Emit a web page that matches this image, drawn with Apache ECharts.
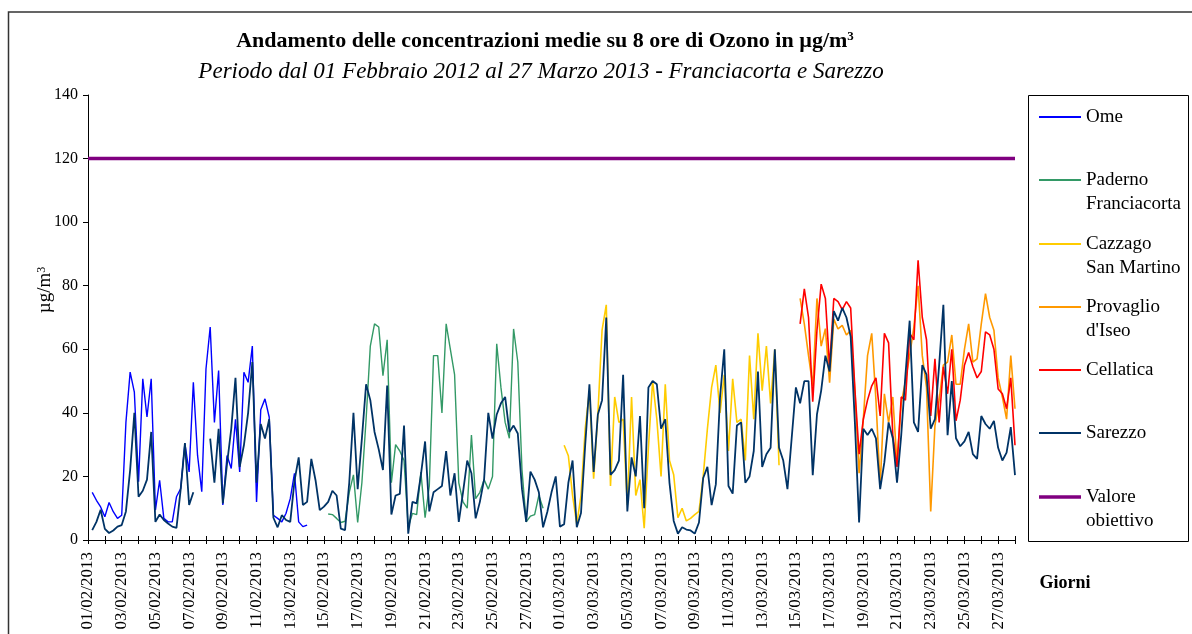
<!DOCTYPE html>
<html lang="it">
<head>
<meta charset="utf-8">
<title>Ozono - medie su 8 ore</title>
<script src="https://cdn.jsdelivr.net/npm/echarts@6/dist/echarts.min.js"></script>
<style>
  html, body { margin: 0; padding: 0; background: #ffffff; }
  #chart { width: 1192px; height: 634px; }
</style>
</head>
<body>
<div id="chart"></div>
<script>
// Medie mobili su 8 ore di ozono (µg/m³), una lettura ogni 6 ore a partire dal 01/02/2013 00:00.
const stepHours = 6;
const totalDays = 55;
const targetValue = 120;

// Etichette dell'asse dei giorni (una ogni due giorni)
const tickLabels = [
  '01/02/2013', '03/02/2013', '05/02/2013', '07/02/2013', '09/02/2013', '11/02/2013', '13/02/2013',
  '15/02/2013', '17/02/2013', '19/02/2013', '21/02/2013', '23/02/2013', '25/02/2013', '27/02/2013',
  '01/03/2013', '03/03/2013', '05/03/2013', '07/03/2013', '09/03/2013', '11/03/2013', '13/03/2013',
  '15/03/2013', '17/03/2013', '19/03/2013', '21/03/2013', '23/03/2013', '25/03/2013', '27/03/2013'
];

// Ome: dal passo 1
const omeStart = 1;
const ome = [
  15, 12.5, 10.4, 7.3, 11.8, 8.9, 6.8, 7.8, 37, 52.8, 46.5, 18.3, 50.7, 38.7, 50.7, 9.4,
  18.8, 6.8, 5.7, 5.7, 13.6, 16.2, 30.3, 21.4, 49.6, 26.6, 15.2, 53.8, 67, 37, 53.3, 11,
  26.6, 22.5, 38, 21.4, 52.8, 49.6, 61, 12, 41, 44.4, 38.7, 7.8, 6.8, 5.7, 8.4, 13,
  21, 5.7, 4.2, 4.7
];

// Paderno Franciacorta: dal passo 57
const padernoStart = 57;
const paderno = [
  8.2, 8, 6.8, 5.5, 5.9, 15, 20.5, 5.5, 18, 38, 61, 68, 67, 51.7, 63, 18,
  30, 28, 25, 4, 8.4, 8, 21.4, 7, 17, 58, 58, 40, 68, 60, 52, 18,
  12, 10, 33, 13, 15, 19, 16, 20, 61.7, 48, 37, 32, 66.4, 56, 22, 5.7,
  7.5, 8, 14, 10
];

// Cazzago San Martino: dal passo 113
const cazzagoStart = 113;
const cazzago = [
  29.8, 26.5, 14, 5, 14, 35, 47, 19.3, 39.5, 66, 74, 17, 45, 37, 38, 11,
  45, 14, 19, 3.7, 29, 50, 38, 20, 49, 25, 20.5, 7, 10, 6, 6.8, 8,
  9, 20, 35, 48, 55, 40, 52, 28, 50.7, 37, 38, 25, 58, 38, 65, 47,
  61, 43, 60, 23.5
];

// Provaglio d'Iseo: dal passo 169
const provaglioStart = 169;
const provaglio = [
  76, 68, 58, 48.5, 76, 61, 66.5, 49.5, 69.5, 66.4, 67.5, 64.5, 66, 47, 21, 38,
  58, 65, 44, 17, 46, 37, 45, 24, 43, 50, 58, 67, 80, 58, 48, 9,
  36, 44, 55, 56, 64.5, 49, 49, 60, 68, 56, 57, 68, 77.5, 70, 66, 51,
  45, 38, 58, 41.3
];

// Cellatica: dal passo 169
const cellaticaStart = 169;
const cellatica = [
  68, 79, 70, 43.5, 66, 80.5, 76, 54.3, 76, 75, 72.5, 75, 73, 47.5, 27, 38,
  44, 48.5, 51, 39, 65, 62, 33, 23, 45, 44, 65, 63, 88, 70, 63, 39,
  57, 37, 54.5, 46, 60, 37.5, 44, 55, 59, 54.5, 51, 53, 65.5, 64.5, 60, 47.5,
  46, 41.3, 51, 29.8
];

// Sarezzo: dal passo 1 (null = dato mancante)
const sarezzoStart = 1;
const sarezzo = [
  3.1, 5.7, 9.5, 3.5, 2.2, 3, 4.2, 4.7, 9, 22, 40, 13.6, 15.5, 19, 34, 5.7,
  8, 6.3, 5.2, 4.2, 3.8, 16, 30.5, 11, 15, null, null, null, 31.9, 18, 35, 11.5,
  24, 35, 51, 23, 29.8, 40, 56, 18, 36.5, 31.9, 38, 7, 4, 7.8, 6.3, 5.7,
  18.5, 26, 11, 12, 25.5, 18.8, 9.4, 10.5, 12, 15.5, 14, 3.6, 3.1, 18, 40, 16,
  31.9, 49, 44, 34, 28.5, 22, 48.6, 8, 14, 14.5, 36, 2, 12, 11.5, 20.4, 31,
  9, 15, 16, 17, 28, 14, 21, 5.7, 15, 25, 21, 6.8, 12, 19, 40, 31.9,
  39.5, 43, 45, 34, 36, 33.5, 16, 5.7, 21.5, 19, 15, 4, 8.8, 15, 20, 4.2,
  5, 18, 25, 4, 8.5, 30, 49, 21.4, 39.5, 44, 70, 20.5, 22, 25, 52, 9,
  26, 20, 39, 10, 48, 50, 49, 35, 38, 18, 6, 2, 4, 3.3, 3, 2,
  5.5, 19.5, 23, 11, 17.5, 45, 60, 17, 14.6, 36, 37, 18, 20, 28, 53, 23,
  27, 29, 60, 29, 25, 16, 32, 48, 43, 50, 50, 20.4, 39.5, 47, 58, 53,
  72, 69, 73, 70, 64, 37, 5.5, 35, 33, 35, 32, 16, 24.5, 37, 32, 18,
  33, 52, 69, 37, 34, 55, 52, 35, 38, 55, 74, 33, 50, 32, 29.5, 31,
  34, 27, 25.5, 39, 36.5, 35, 37.5, 29, 25, 27.5, 35.5, 20.4
];

const serif = 'Liberation Serif, Times New Roman, serif';
const axisEndHours = totalDays * 24;

function toPoints(start, values) {
  return values.map((v, i) => [(start + i) * stepHours, v]);
}

function lineSeries(name, color, width, start, values) {
  return {
    name: name,
    type: 'line',
    symbol: 'none',
    showSymbol: false,
    connectNulls: false,
    color: color,
    lineStyle: { color: color, width: width },
    data: toPoints(start, values),
    animation: false
  };
}

const series = [
  lineSeries('Ome', '#0000ff', 1.4, omeStart, ome),
  lineSeries('Paderno Franciacorta', '#339966', 1.4, padernoStart, paderno),
  lineSeries('Cazzago San Martino', '#ffcc00', 1.6, cazzagoStart, cazzago),
  lineSeries('Provaglio d\'Iseo', '#ff9900', 1.6, provaglioStart, provaglio),
  lineSeries('Cellatica', '#ff0000', 1.6, cellaticaStart, cellatica),
  lineSeries('Sarezzo', '#003366', 1.8, sarezzoStart, sarezzo),
  {
    name: 'Valore obiettivo',
    type: 'line',
    symbol: 'none',
    color: '#800080',
    lineStyle: { color: '#800080', width: 3.5 },
    data: [[0, targetValue], [axisEndHours, targetValue]],
    animation: false
  }
];

// Voci della legenda: riga del simbolo e testo (eventualmente su due righe)
const legendLineHeight = 24;
const legendEntries = [
  { name: 'Ome', text: 'Ome', y: 117, h: 2 },
  { name: 'Paderno Franciacorta', text: '\nPaderno\nFranciacorta', y: 180, h: 2 },
  { name: 'Cazzago San Martino', text: '\nCazzago\nSan Martino', y: 244, h: 2 },
  { name: 'Provaglio d\'Iseo', text: '\nProvaglio\nd\'Iseo', y: 307, h: 2 },
  { name: 'Cellatica', text: 'Cellatica', y: 370, h: 2 },
  { name: 'Sarezzo', text: 'Sarezzo', y: 433, h: 2 },
  { name: 'Valore obiettivo', text: '\nValore\nobiettivo', y: 497, h: 3.5 }
];

const legends = legendEntries.map(e => {
  const lines = e.text.split('\n').length;
  return {
    data: [{ name: e.name, icon: 'rect' }],
    orient: 'vertical',
    left: 1039,
    top: e.y - lines * legendLineHeight / 2,
    padding: 0,
    itemGap: 0,
    itemWidth: 42,
    itemHeight: e.h,
    selectedMode: false,
    formatter: () => e.text,
    textStyle: { fontFamily: serif, fontSize: 19, color: '#000', lineHeight: legendLineHeight }
  };
});

const chart = echarts.init(document.getElementById('chart'), null, { renderer: 'canvas' });

chart.setOption({
  backgroundColor: '#ffffff',
  animation: false,
  grid: { left: 88, right: 177, top: 95, bottom: 94, containLabel: false },
  legend: legends,
  xAxis: [
    {
      type: 'value',
      min: 0,
      max: axisEndHours,
      interval: 24,
      position: 'bottom',
      axisLine: { show: true, lineStyle: { color: '#000', width: 1 } },
      axisTick: { show: true, inside: false, length: 4, lineStyle: { color: '#000' } },
      splitLine: { show: false },
      axisLabel: {
        rotate: 90,
        margin: 12,
        fontFamily: serif,
        fontSize: 17,
        color: '#000',
        showMinLabel: true,
        showMaxLabel: true,
        formatter: (v) => {
          const d = Math.round(v / 24);
          return d % 2 === 0 ? (tickLabels[d / 2] || '') : '';
        }
      }
    },
    {
      type: 'value',
      min: 0,
      max: axisEndHours,
      interval: 24,
      position: 'bottom',
      axisLine: { show: false },
      axisTick: { show: true, inside: true, length: 4, lineStyle: { color: '#000' } },
      axisLabel: { show: false },
      splitLine: { show: false }
    }
  ],
  yAxis: {
    type: 'value',
    min: 0,
    max: 140,
    interval: 20,
    axisLine: { show: true, lineStyle: { color: '#000', width: 1 } },
    axisTick: { show: true, length: 5, lineStyle: { color: '#000' } },
    splitLine: { show: false },
    axisLabel: { margin: 10, fontFamily: serif, fontSize: 16, color: '#000' }
  },
  graphic: [
    {
      type: 'rect', silent: true, z: -1,
      shape: { x: 8.5, y: 12, width: 1200, height: 700 },
      style: { fill: 'none', stroke: '#333', lineWidth: 1.5 }
    },
    {
      type: 'rect', silent: true,
      shape: { x: 1028.5, y: 95.5, width: 160, height: 446 },
      style: { fill: 'none', stroke: '#000', lineWidth: 1 }
    },
    {
      type: 'text', silent: true,
      style: {
        x: 545, y: 41, align: 'center', verticalAlign: 'middle',
        text: '{b|Andamento delle concentrazioni medie su 8 ore di Ozono in µg/m}{sup|3}',
        rich: {
          b: { fontFamily: serif, fontWeight: 'bold', fontSize: 22, fill: '#000', verticalAlign: 'bottom' },
          sup: { fontFamily: serif, fontWeight: 'bold', fontSize: 13, fill: '#000', verticalAlign: 'top' }
        }
      }
    },
    {
      type: 'text', silent: true,
      style: {
        x: 541, y: 72, align: 'center', verticalAlign: 'middle',
        text: 'Periodo dal 01 Febbraio 2012 al 27 Marzo 2013 - Franciacorta e Sarezzo',
        font: 'italic 23px ' + serif, fill: '#000'
      }
    },
    {
      type: 'text', silent: true,
      x: 45, y: 290, rotation: Math.PI / 2,
      style: {
        x: 0, y: 0, align: 'center', verticalAlign: 'middle',
        text: '{t|µg/m}{s|3}',
        rich: {
          t: { fontFamily: serif, fontSize: 19, fill: '#000', verticalAlign: 'bottom' },
          s: { fontFamily: serif, fontSize: 12, fill: '#000', verticalAlign: 'top' }
        }
      }
    },
    {
      type: 'text', silent: true,
      style: {
        x: 1065, y: 583, align: 'center', verticalAlign: 'middle',
        text: 'Giorni', font: 'bold 18px ' + serif, fill: '#000'
      }
    }
  ],
  series: series
});
</script>
</body>
</html>
